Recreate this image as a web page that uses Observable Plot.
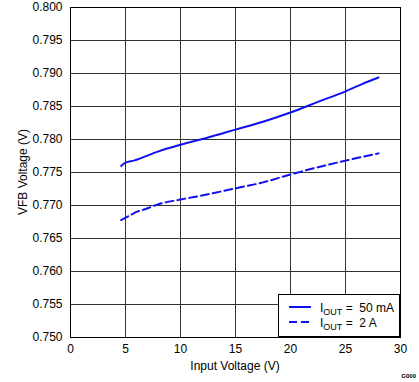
<!DOCTYPE html>
<html>
<head>
<meta charset="utf-8">
<script src="https://cdn.jsdelivr.net/npm/d3@7"></script>
<script src="https://cdn.jsdelivr.net/npm/@observablehq/plot@0.6"></script>
<style>
  html, body { margin: 0; padding: 0; background: #fff; }
  svg { display: block; }
</style>
</head>
<body>
<div id="chart"></div>
<script>
// Input voltage (V) and VFB (V) for each series
const vin50mA = [4.6, 5, 5.75, 8, 10, 12.5, 15, 17.5, 20, 22.5, 25, 26.5, 28];
const vfb50mA = [0.7760, 0.7765, 0.7768, 0.7782, 0.7792, 0.7803, 0.7815, 0.7827, 0.7841, 0.7857, 0.7873, 0.7884, 0.7894];

const vin2A = [4.6, 5.4, 6.1, 6.7, 8, 10, 12.5, 15, 17.5, 20, 22.5, 25, 28];
const vfb2A = [0.7678, 0.7685, 0.7691, 0.7694, 0.7702, 0.7709, 0.7717, 0.7726, 0.7735, 0.7747, 0.7758, 0.7768, 0.7779];

const xTicks = [0, 5, 10, 15, 20, 25, 30];
const yTicks = [0.750, 0.755, 0.760, 0.765, 0.770, 0.775, 0.780, 0.785, 0.790, 0.795, 0.800];

const seriesNames = ["50 mA", "2 A"];

const data = [
  ...vin50mA.map((v, i) => ({vin: v, vfb: vfb50mA[i], s: seriesNames[0]})),
  ...vin2A.map((v, i) => ({vin: v, vfb: vfb2A[i], s: seriesNames[1]}))
];

const FONT = "Arial, 'Liberation Sans', sans-serif";
const BLUE = "#1010f0";

const plot = Plot.plot({
  width: 419,
  height: 382,
  marginLeft: 70,
  marginRight: 19,
  marginTop: 7,
  marginBottom: 45,
  style: {fontFamily: FONT, fontSize: "12px", color: "#000", background: "#fff", overflow: "visible"},
  x: {domain: [0, 30], ticks: xTicks},
  y: {domain: [0.75, 0.80], ticks: yTicks},
  marks: [
    Plot.gridX(xTicks, {stroke: "#333", strokeOpacity: 1, strokeWidth: 1}),
    Plot.gridY(yTicks, {stroke: "#333", strokeOpacity: 1, strokeWidth: 1}),
    Plot.axisX(xTicks, {tickSize: 0, tickPadding: 7, label: null, fontSize: 12, tickFormat: d => String(d)}),
    Plot.axisY(yTicks, {tickSize: 0, tickPadding: 8, label: null, fontSize: 12, tickFormat: d3.format(".3f")}),
    Plot.line(data.filter(d => d.s === seriesNames[0]), {x: "vin", y: "vfb", stroke: BLUE, strokeWidth: 2, curve: "monotone-x"}),
    Plot.line(data.filter(d => d.s === seriesNames[1]), {x: "vin", y: "vfb", stroke: BLUE, strokeWidth: 2, strokeDasharray: "8,4", curve: "monotone-x"}),
    Plot.frame({stroke: "#000", strokeWidth: 1})
  ]
});

document.getElementById("chart").appendChild(plot);

const svg = d3.select(plot);

// Axis titles
svg.append("text")
  .attr("x", 235).attr("y", 370)
  .attr("text-anchor", "middle")
  .attr("font-family", FONT).attr("font-size", 12)
  .attr("fill", "#000")
  .text("Input Voltage (V)");

svg.append("text")
  .attr("transform", "translate(27,172) rotate(-90)")
  .attr("text-anchor", "middle")
  .attr("font-family", FONT).attr("font-size", 12)
  .attr("fill", "#000")
  .text("VFB Voltage (V)");

// Small figure code
svg.append("text")
  .attr("x", 416).attr("y", 378)
  .attr("text-anchor", "end")
  .attr("font-family", FONT).attr("font-size", 6).attr("font-weight", "bold")
  .attr("fill", "#000")
  .text("G000");

// Legend
const lg = svg.append("g").attr("text-anchor", "start");
lg.append("rect")
  .attr("x", 278.5).attr("y", 294.5).attr("width", 121).attr("height", 42)
  .attr("fill", "#fff").attr("stroke", "#000").attr("stroke-width", 1);

const rows = [
  {label: seriesNames[0], dash: null, y: 307},
  {label: seriesNames[1], dash: "8,4", y: 322}
];
rows.forEach(r => {
  lg.append("line")
    .attr("x1", 289).attr("x2", 311).attr("y1", r.y).attr("y2", r.y)
    .attr("stroke", BLUE).attr("stroke-width", 2)
    .attr("stroke-dasharray", r.dash);
  const t = lg.append("text")
    .attr("x", 320).attr("y", r.y + 5)
    .attr("text-anchor", "start")
    .attr("font-family", FONT).attr("font-size", 12).attr("fill", "#000");
  t.append("tspan").text("I");
  t.append("tspan").attr("font-size", 9).attr("dy", 3).text("OUT");
  t.append("tspan").attr("dy", -3).text(" = \u00a0" + r.label);
});
</script>
</body>
</html>
